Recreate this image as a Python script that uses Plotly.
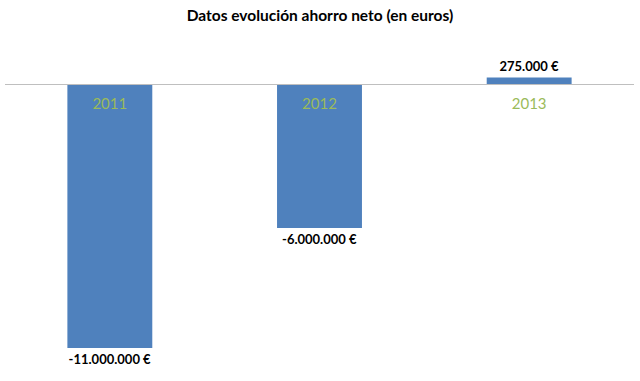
import plotly.graph_objects as go

years = ["2011", "2012", "2013"]
ahorro_neto = [-11000000, -6000000, 275000]

def fmt(v):
    s = f"{abs(v):,}".replace(",", ".")
    return ("-" if v < 0 else "") + s + " €"

labels = [fmt(v) for v in ahorro_neto]

ymin, ymax = -11.917e6, 1.833e6
zero_pos = (0 - ymin) / (ymax - ymin)

fig = go.Figure(go.Bar(
    x=years, y=ahorro_neto, text=labels, textposition="outside",
    textfont=dict(family="Lato", size=13, color="#000000", weight="bold"),
    marker=dict(color="#4F81BD", line=dict(width=0)),
    width=0.405, cliponaxis=False,
))

fig.update_layout(
    width=640, height=381,
    margin=dict(l=5, r=6, t=40, b=11),
    paper_bgcolor="white", plot_bgcolor="white",
    title=dict(text="<b>Datos evolución ahorro neto (en euros)</b>", x=0.5, xanchor="center",
               y=1 - 16/381, yanchor="middle",
               font=dict(family="Lato", size=15.5, color="#000000")),
    showlegend=False,
    font=dict(family="Lato"),
)
fig.update_xaxes(
    anchor="free", position=zero_pos, showline=True, linecolor="#BFBFBF", linewidth=1,
    ticks="outside", ticklen=6, tickcolor="rgba(0,0,0,0)",
    tickfont=dict(family="Lato", size=15, color="#9BBB59"),
    showgrid=False, zeroline=False,
)
fig.update_yaxes(range=[ymin, ymax], visible=False, showgrid=False, zeroline=False)

fig.write_html("out.html", config={"displayModeBar": False},
               post_script="document.body.style.margin='0';document.body.style.padding='0';")
